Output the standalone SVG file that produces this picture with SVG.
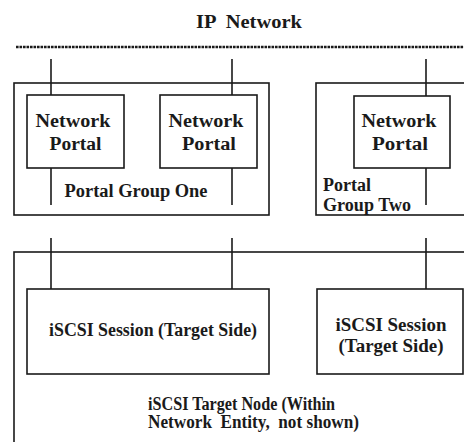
<svg xmlns="http://www.w3.org/2000/svg" width="464" height="442" viewBox="0 0 464 442">
<style>
.box{fill:none;stroke:#1a1a1a;stroke-width:1.6}
.ln{stroke:#1a1a1a;stroke-width:1.6;fill:none}
.dot{stroke:#1a1a1a;stroke-width:2.6;stroke-dasharray:2.6 0.9;fill:none}
text{font-family:"Liberation Serif","Times New Roman",serif;font-weight:bold;font-size:18px;fill:#1a1a1a}
.c{text-anchor:middle}
</style>
<rect width="464" height="442" fill="#ffffff"/>
<g id="ip-network">
<text x="249" y="28" class="c" textLength="106" lengthAdjust="spacingAndGlyphs" xml:space="preserve">IP  Network</text>
<line class="dot" x1="16" y1="47" x2="464" y2="47"/>
</g>
<g id="portal-group-one">
<rect class="box" x="14" y="83" width="255" height="132"/>
<text x="136" y="197" class="c" textLength="143" lengthAdjust="spacingAndGlyphs">Portal Group One</text>
</g>
<g id="portal-group-two">
<rect class="box" x="316" y="83" width="160" height="132"/>
<text x="323" y="191" textLength="48" lengthAdjust="spacingAndGlyphs">Portal</text>
<text x="323" y="211" textLength="88" lengthAdjust="spacingAndGlyphs">Group Two</text>
</g>
<g id="network-portal-1">
<rect class="box" x="27" y="95" width="97" height="73"/>
<text x="73" y="127" class="c" textLength="75" lengthAdjust="spacingAndGlyphs">Network</text>
<text x="75.5" y="150" class="c" textLength="52" lengthAdjust="spacingAndGlyphs">Portal</text>
</g>
<g id="network-portal-2">
<rect class="box" x="160" y="95" width="97" height="73"/>
<text x="206" y="127" class="c" textLength="75" lengthAdjust="spacingAndGlyphs">Network</text>
<text x="209" y="150" class="c" textLength="54" lengthAdjust="spacingAndGlyphs">Portal</text>
</g>
<g id="network-portal-3">
<rect class="box" x="354" y="96" width="96" height="72"/>
<text x="399" y="127" class="c" textLength="75" lengthAdjust="spacingAndGlyphs">Network</text>
<text x="400" y="150" class="c" textLength="56" lengthAdjust="spacingAndGlyphs">Portal</text>
</g>
<g id="target-node">
<rect class="box" x="14" y="252" width="470" height="210"/>
<text x="148" y="410" textLength="187" lengthAdjust="spacingAndGlyphs">iSCSI Target Node (Within</text>
<text x="148" y="428" textLength="211" lengthAdjust="spacingAndGlyphs" xml:space="preserve">Network  Entity,  not shown)</text>
</g>
<g id="session-1">
<rect class="box" x="27" y="289" width="242" height="85"/>
<text x="153" y="336" class="c" textLength="208" lengthAdjust="spacingAndGlyphs">iSCSI Session (Target Side)</text>
</g>
<g id="session-2">
<rect class="box" x="317" y="289" width="146" height="85"/>
<text x="391" y="331" class="c" textLength="111" lengthAdjust="spacingAndGlyphs">iSCSI Session</text>
<text x="391" y="352" class="c" textLength="105" lengthAdjust="spacingAndGlyphs">(Target Side)</text>
</g>
<g id="connectors">
<line class="ln" x1="51" y1="59" x2="51" y2="95"/>
<line class="ln" x1="232" y1="59" x2="232" y2="95"/>
<line class="ln" x1="426" y1="59" x2="426" y2="96"/>
<line class="ln" x1="51" y1="168" x2="51" y2="205"/>
<line class="ln" x1="232" y1="168" x2="232" y2="205"/>
<line class="ln" x1="426" y1="168" x2="426" y2="205"/>
<line class="ln" x1="51" y1="238" x2="51" y2="289"/>
<line class="ln" x1="232" y1="238" x2="232" y2="289"/>
<line class="ln" x1="426" y1="238" x2="426" y2="289"/>
</g>
</svg>
